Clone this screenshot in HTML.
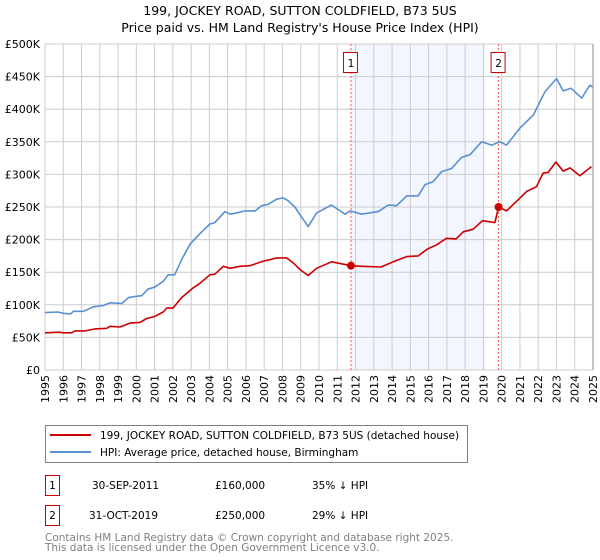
<!DOCTYPE html>
<html><head><meta charset="utf-8"><style>
body{margin:0;background:#fff;width:600px;height:560px;overflow:hidden;font-family:"DejaVu Sans","Liberation Sans",sans-serif;}
svg{display:block}
</style></head><body>
<svg id="chart" width="600" height="560" xmlns="http://www.w3.org/2000/svg" font-family="DejaVu Sans, Liberation Sans, sans-serif">
<text x="300" y="15" text-anchor="middle" font-size="12.5">199, JOCKEY ROAD, SUTTON COLDFIELD, B73 5US</text>
<text x="300" y="32" text-anchor="middle" font-size="12.5">Price paid vs. HM Land Registry's House Price Index (HPI)</text>
<g id="grid"></g>
<g id="marks"></g>
<g id="axes"></g>
<g>
<rect x="45.5" y="425.5" width="422" height="37" fill="#fff" stroke="#808080"/>
<line x1="50" y1="435" x2="91" y2="435" stroke="#cc0000" stroke-width="2"/>
<text x="100" y="439" font-size="10.5">199, JOCKEY ROAD, SUTTON COLDFIELD, B73 5US (detached house)</text>
<line x1="50" y1="452" x2="91" y2="452" stroke="#5b8fd4" stroke-width="2"/>
<text x="100" y="456" font-size="10.5">HPI: Average price, detached house, Birmingham</text>
</g>
<g font-size="10.5">
<rect x="45.5" y="475.5" width="14" height="20" fill="#fff" stroke="#cc0000"/>
<text x="52.5" y="489" text-anchor="middle">1</text>
<text x="92" y="489">30-SEP-2011</text><text x="215" y="489">£160,000</text><text x="312" y="489">35% ↓ HPI</text>
<rect x="45.5" y="505.5" width="14" height="20" fill="#fff" stroke="#cc0000"/>
<text x="52.5" y="519" text-anchor="middle">2</text>
<text x="89" y="519">31-OCT-2019</text><text x="215" y="519">£250,000</text><text x="312" y="519">29% ↓ HPI</text>
</g>
<g font-size="10.5" fill="#808080">
<text x="45" y="541">Contains HM Land Registry data © Crown copyright and database right 2025.</text>
<text x="45" y="551">This data is licensed under the Open Government Licence v3.0.</text>
</g>
</svg>
<script>
const yearTicks=[1995,1996,1997,1998,1999,2000,2001,2002,2003,2004,2005,2006,2007,2008,2009,2010,2011,2012,2013,2014,2015,2016,2017,2018,2019,2020,2021,2022,2023,2024,2025];
const valueTicks=[0,50000,100000,150000,200000,250000,300000,350000,400000,450000,500000];
const valueTickLabels=["£0","£50K","£100K","£150K","£200K","£250K","£300K","£350K","£400K","£450K","£500K"];
const hpiYears=[1995,1995.7,1996,1996.4,1996.55,1997.1,1997.65,1998.2,1998.56,1999.2,1999.57,2000,2000.3,2000.63,2001,2001.47,2001.74,2002.1,2002.48,2002.94,2003.48,2004.03,2004.3,2004.85,2005.14,2005.67,2005.94,2006.5,2006.86,2007.2,2007.68,2008.04,2008.3,2008.68,2008.96,2009.41,2009.87,2010.69,2011.42,2011.7,2012.33,2013.24,2013.8,2014.25,2014.8,2015.43,2015.8,2016.25,2016.7,2017.26,2017.8,2018.26,2018.9,2019.45,2019.9,2020.27,2021,2021.73,2022.37,2023,2023.37,2023.8,2024.38,2024.83,2024.97];
const hpiValues=[88,89,87,86,90,90,97,99,103,102,111,113,114,124,127,136,146,146,169,193,209,224,226,243,239,242,244,244,252,254,262,264,260,250,238,220,241,253,239,244,239,243,253,252,267,267,284,289,304,309,326,330,350,345,350,345,371,391,427,447,428,432,417,437,434];
const propYears=[1995,1995.8,1996,1996.46,1996.64,1997.2,1997.74,1998.38,1998.56,1999.1,1999.3,1999.65,2000.2,2000.56,2001,2001.47,2001.66,2002,2002.48,2003.12,2003.48,2004.03,2004.3,2004.76,2005.14,2005.67,2006.22,2006.95,2007.3,2007.68,2008.23,2008.6,2008.96,2009.41,2009.87,2010.69,2011.75,2012.33,2013.4,2014.07,2014.8,2015.43,2015.9,2016.44,2016.98,2017.5,2017.9,2018.44,2018.95,2019.63,2019.83,2020.27,2020.9,2021.37,2021.9,2022.27,2022.55,2022.97,2023.37,2023.74,2024.28,2024.92];
const propValues=[57,58,57,57,60,60,63,64,67,66,68,72,73,79,82,89,95,95,111,126,133,146,147,159,156,159,160,167,169,172,172,164,154,145,156,166,160,159,158,166,174,175,185,192,202,201,212,216,229,226,250,244,261,274,281,302,303,319,305,310,298,312];
const saleYears=[2011.75,2019.83];
const saleValues=[160,250];
const saleLabels=["1","2"];
const shadeRange=[2011.75,2019.1];

const X0=45,X1=593,Y0=370,Y1=44;
const x=y=>X0+(y-1995)/30*(X1-X0);
const yv=v=>Y0-v/500000*(Y0-Y1);
const NS="http://www.w3.org/2000/svg";
function mk(parent,tag,attrs){const e=document.createElementNS(NS,tag);for(const k in attrs)e.setAttribute(k,attrs[k]);parent.appendChild(e);return e;}
const grid=document.getElementById('grid'),marks=document.getElementById('marks'),axes=document.getElementById('axes');
const sh=mk(grid,'rect',{x:x(shadeRange[0]),y:Y1,width:x(shadeRange[1])-x(shadeRange[0]),height:Y0-Y1,fill:'#f3f6fe'});


yearTicks.forEach(t=>{
  const l=mk(grid,'line',{x1:x(t),x2:x(t),y1:Y1,y2:Y0,stroke:'#cccccc','stroke-width':1});
  
  
  const tx=mk(axes,'text',{x:0,y:0,'font-size':11,'text-anchor':'end',transform:`translate(${x(t)+4},${Y0+5}) rotate(-90)`});
  tx.textContent=t;
  
  
});
valueTicks.forEach((v,i)=>{
  const l=mk(grid,'line',{x1:X0,x2:X1,y1:yv(v),y2:yv(v),stroke:'#cccccc','stroke-width':1});
  
  
  const tx=mk(axes,'text',{x:40,y:yv(v)+4,'font-size':11,'text-anchor':'end'});
  tx.textContent=valueTickLabels[i];
  
  
});
const ax=mk(axes,'line',{x1:X1,x2:X1,y1:Y1,y2:Y0,stroke:'#888','stroke-width':1});


saleYears.forEach((s,i)=>{
  const l=mk(marks,'line',{x1:x(s),x2:x(s),y1:Y1,y2:Y0,stroke:'#ff5555','stroke-width':1,'stroke-dasharray':'2,2'});
  
  
  const b=mk(marks,'rect',{x:x(s)-7.5,y:52.5,width:14,height:20,fill:'#fff',stroke:'#cc0000'});
  
  
  const t=mk(marks,'text',{x:x(s),y:67,'font-size':10.5,'text-anchor':'middle'});
  t.textContent=saleLabels[i];
  
  
});
function line(xs,vs,color,name){
  const p=mk(marks,'polyline',{points:xs.map((t,i)=>x(t).toFixed(1)+','+yv(vs[i]*1000).toFixed(1)).join(' '),fill:'none',stroke:color,'stroke-width':1.6,'stroke-linejoin':'round'});
  
  
}
line(hpiYears,hpiValues,'#5b8fd4','hpi-line');
line(propYears,propValues,'#cc0000','property-price-line');
saleYears.forEach((s,i)=>{
  const c=mk(marks,'circle',{cx:x(s),cy:yv(saleValues[i]*1000),r:4,fill:'#cc0000'});
  
  
});
</script>
</body></html>
